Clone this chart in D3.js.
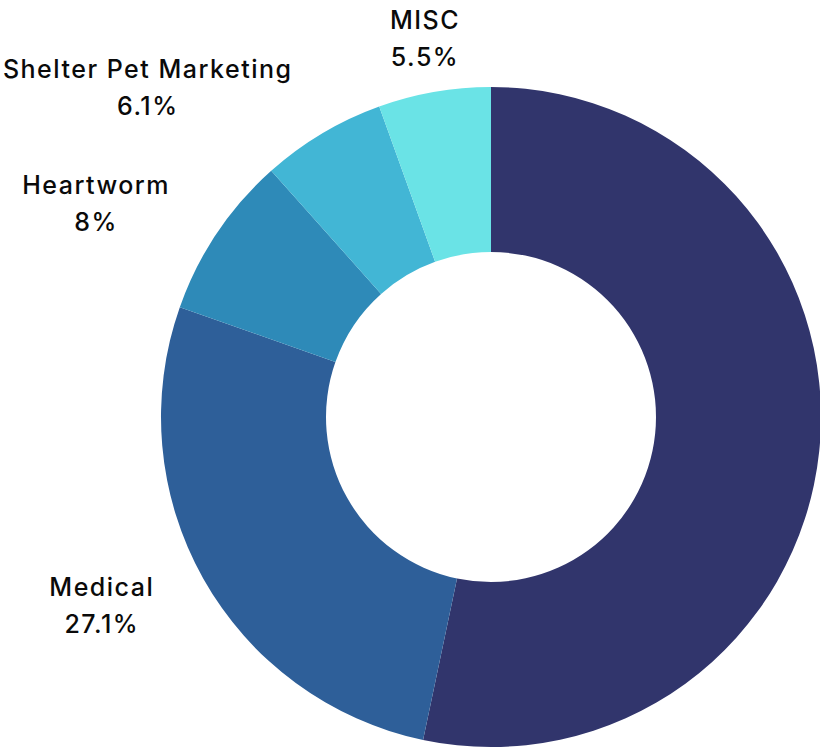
<!DOCTYPE html>
<html>
<head>
<meta charset="utf-8">
<script src="https://cdn.jsdelivr.net/npm/d3@7"></script>
<style>
  html, body { margin: 0; padding: 0; background: #ffffff; overflow: hidden; }
  svg { display: block; }
  text { font-family: Inter, "Open Sans", sans-serif; }
</style>
</head>
<body>
<svg id="chart" width="820" height="749"></svg>
<script>
// ---- data ----
const categories = ["", "Medical", "Heartworm", "Shelter Pet Marketing", "MISC"];
const values = [53.3, 27.1, 8, 6.1, 5.5];
const valueLabels = ["53.3%", "27.1%", "8%", "6.1%", "5.5%"];
const colors = ["#31356C", "#2E5F99", "#2E8AB8", "#42B6D5", "#6AE3E6"];

// ---- layout ----
const W = 820, H = 749;
const cx = 491, cy = 417;
const outerR = 330, innerR = 165;
const labelR = 384;
const fontSize = 25;
const letterSpacing = 1.5;
const lineGap = 37;
const capH = 18;

const data = categories.map((c, i) => ({ name: c, value: values[i], label: valueLabels[i], color: colors[i] }));

const svg = d3.select("#chart");
const g = svg.append("g").attr("transform", `translate(${cx},${cy})`);

const pie = d3.pie().sort(null).value(d => d.value);
const arcs = pie(data);

const arc = d3.arc().innerRadius(innerR).outerRadius(outerR);

g.selectAll("path.slice")
  .data(arcs)
  .join("path")
  .attr("class", "slice")
  .attr("d", arc)
  .attr("fill", d => d.data.color);

// labels
const labelArc = d3.arc().innerRadius(labelR).outerRadius(labelR);
const lg = g.append("g").attr("class", "labels");

arcs.filter(d => d.data.name).forEach(d => {
  const [px, py] = labelArc.centroid(d);
  const mid = (d.startAngle + d.endAngle) / 2;
  const s = Math.sin(mid);
  const t = lg.append("text")
    .attr("font-size", fontSize)
    .attr("font-weight", 500)
    .attr("letter-spacing", letterSpacing)
    .attr("fill", "#0a0a0a")
    .attr("text-anchor", "middle");
  const l1 = t.append("tspan").text(d.data.name);
  const l2 = t.append("tspan").text(d.data.label);
  const w = Math.max(l1.node().getComputedTextLength(), l2.node().getComputedTextLength());
  let x = px;
  if (s < -0.3) x = px - 2 - w / 2;
  else if (s > 0.3) x = px + 2 + w / 2;
  const b1 = py - (capH + lineGap) / 2 + capH;
  l1.attr("x", x).attr("y", b1);
  l2.attr("x", x).attr("y", b1 + lineGap);
});
</script>
</body>
</html>
